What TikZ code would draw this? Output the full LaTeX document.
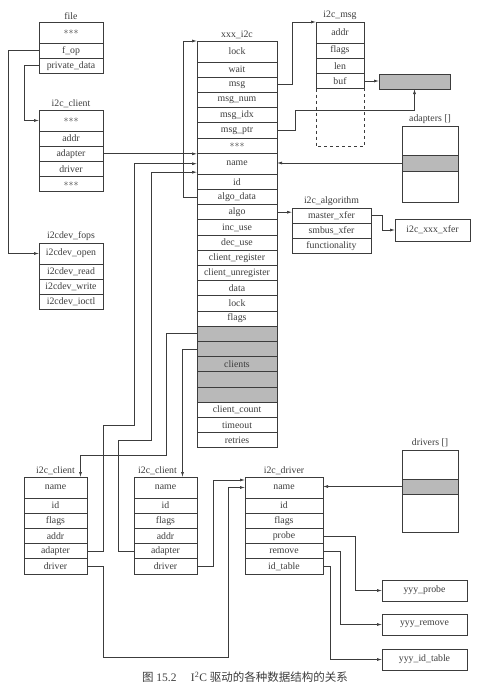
\documentclass[tikz,border=0pt]{standalone}
\usepackage{fontspec}
\setmainfont{Liberation Serif}
\newfontfamily\cjk{Noto Sans CJK SC}
\usepackage{xcolor}
\usetikzlibrary{arrows.meta, positioning, calc}
\definecolor{ink}{RGB}{60,60,60}
\definecolor{shade}{RGB}{185,185,185}
\newcommand{\fldfont}{\fontsize{9.8}{11}\selectfont}
\newcommand{\stars}{${\ast}{\ast}{\ast}$}

\begin{document}
\begin{tikzpicture}[
  x=1pt, y=-1pt,
  fld/.style={draw=ink, line width=0.7pt, minimum width=#1, minimum height=15.2pt,
              inner sep=0pt, outer sep=0pt, font=\fldfont, text=ink},
  fld/.default=64pt,
  tall/.style={fld=#1, minimum height=21pt},
  grayfld/.style={fld=#1, fill=shade},
  ttl/.style={font=\fldfont, text=ink, inner sep=2.5pt},
  blk/.style={draw=ink, line width=0.7pt, inner sep=0pt, outer sep=0pt,
              font=\fldfont, text=ink},
  arr/.style={-{Latex[length=5pt,width=3pt]}, draw=ink, line width=0.7pt}
]
\useasboundingbox (0,0) rectangle (487,697);

% file
\node[tall=64pt, anchor=north west, label={[ttl]above:file}] (fdots) at (39,22) {\stars};
\node[fld=64pt, below=0pt of fdots] (fop)   {f\_op};
\node[fld=64pt, below=0pt of fop]   (fpriv) {private\_data};

% i2c_client (top)
\node[tall=64pt, anchor=north west, label={[ttl]above:i2c\_client}] (cdots) at (39,110) {\stars};
\node[fld=64pt, below=0pt of cdots]    (caddr)    {addr};
\node[fld=64pt, below=0pt of caddr]    (cadapter) {adapter};
\node[fld=64pt, below=0pt of cadapter] (cdriver)  {driver};
\node[fld=64pt, below=0pt of cdriver]  (cdots2)   {\stars};

% i2cdev_fops
\node[tall=64pt, anchor=north west, label={[ttl]above:i2cdev\_fops}] (fopen) at (39,243) {i2cdev\_open};
\node[fld=64pt, below=0pt of fopen]  (fread)  {i2cdev\_read};
\node[fld=64pt, below=0pt of fread]  (fwrite) {i2cdev\_write};
\node[fld=64pt, below=0pt of fwrite] (fioctl) {i2cdev\_ioctl};

% xxx_i2c
\node[tall=80pt, anchor=north west, label={[ttl]above:xxx\_i2c}] (xlock) at (197,41) {lock};
\node[fld=80pt, below=0pt of xlock]     (xwait)     {wait};
\node[fld=80pt, below=0pt of xwait]     (xmsg)      {msg};
\node[fld=80pt, below=0pt of xmsg]      (xmsgnum)   {msg\_num};
\node[fld=80pt, below=0pt of xmsgnum]   (xmsgidx)   {msg\_idx};
\node[fld=80pt, below=0pt of xmsgidx]   (xmsgptr)   {msg\_ptr};
\node[fld=80pt, below=0pt of xmsgptr]   (xdots)     {\stars};
\node[tall=80pt, below=0pt of xdots]    (xname)     {name};
\node[fld=80pt, below=0pt of xname]     (xid)       {id};
\node[fld=80pt, below=0pt of xid]       (xalgodata) {algo\_data};
\node[fld=80pt, below=0pt of xalgodata] (xalgo)     {algo};
\node[fld=80pt, below=0pt of xalgo]     (xinc)      {inc\_use};
\node[fld=80pt, below=0pt of xinc]      (xdec)      {dec\_use};
\node[fld=80pt, below=0pt of xdec]      (xcreg)     {client\_register};
\node[fld=80pt, below=0pt of xcreg]     (xcunreg)   {client\_unregister};
\node[fld=80pt, below=0pt of xcunreg]   (xdata)     {data};
\node[fld=80pt, below=0pt of xdata]     (xlock2)    {lock};
\node[fld=80pt, below=0pt of xlock2]    (xflags)    {flags};
\node[grayfld=80pt, below=0pt of xflags]  (xg1)      {};
\node[grayfld=80pt, below=0pt of xg1]     (xg2)      {};
\node[grayfld=80pt, below=0pt of xg2]     (xclients) {clients};
\node[grayfld=80pt, below=0pt of xclients](xg3)      {};
\node[grayfld=80pt, below=0pt of xg3]     (xg4)      {};
\node[fld=80pt, below=0pt of xg4]       (xccount)   {client\_count};
\node[fld=80pt, below=0pt of xccount]   (xtimeout)  {timeout};
\node[fld=80pt, below=0pt of xtimeout]  (xretries)  {retries};

% i2c_msg
\node[tall=48pt, anchor=north west, label={[ttl]above:i2c\_msg}] (maddr) at (316,22) {addr};
\node[fld=48pt, below=0pt of maddr]  (mflags) {flags};
\node[fld=48pt, below=0pt of mflags] (mlen)   {len};
\node[fld=48pt, below=0pt of mlen]   (mbuf)   {buf};
\draw[ink, line width=0.7pt, dashed] (mbuf.south west) -- ([yshift=-58pt]mbuf.south west)
  -| (mbuf.south east);
\node[blk, fill=shade, minimum width=71pt, minimum height=15pt, anchor=north west] (bufblk) at (379,74) {};

% adapters []
\node[blk, minimum width=56pt, minimum height=76pt, anchor=north west,
      label={[ttl]above:adapters []}] (adapters) at (402,126) {};
\node[blk, fill=shade, minimum width=56pt, minimum height=16pt, anchor=north west] (adgray) at (402,155) {};

% i2c_algorithm
\node[fld=79pt, anchor=north west, label={[ttl]above:i2c\_algorithm}] (amaster) at (292,208) {master\_xfer};
\node[fld=79pt, below=0pt of amaster] (asmbus) {smbus\_xfer};
\node[fld=79pt, below=0pt of asmbus]  (afunc)  {functionality};
\node[blk, minimum width=75pt, minimum height=22pt, anchor=north west] (xfer) at (395,219) {i2c\_xxx\_xfer};

% i2c_client (bottom left)
\node[tall=63pt, anchor=north west, label={[ttl]above:i2c\_client}] (lname) at (24,477) {name};
\node[fld=63pt, below=0pt of lname]    (lid)      {id};
\node[fld=63pt, below=0pt of lid]      (lflags)   {flags};
\node[fld=63pt, below=0pt of lflags]   (laddr)    {addr};
\node[fld=63pt, below=0pt of laddr]    (ladapter) {adapter};
\node[fld=63pt, below=0pt of ladapter] (ldriver)  {driver};

% i2c_client (bottom middle)
\node[tall=63pt, anchor=north west, label={[ttl, xshift=-8pt]above:i2c\_client}] (mname) at (134,477) {name};
\node[fld=63pt, below=0pt of mname]    (mid)      {id};
\node[fld=63pt, below=0pt of mid]      (mflg)     {flags};
\node[fld=63pt, below=0pt of mflg]     (maddr2)   {addr};
\node[fld=63pt, below=0pt of maddr2]   (madapter) {adapter};
\node[fld=63pt, below=0pt of madapter] (mdriver)  {driver};

% i2c_driver
\node[tall=78pt, anchor=north west, label={[ttl]above:i2c\_driver}] (dname) at (245,477) {name};
\node[fld=78pt, below=0pt of dname]   (did)      {id};
\node[fld=78pt, below=0pt of did]     (dflags)   {flags};
\node[fld=78pt, below=0pt of dflags]  (dprobe)   {probe};
\node[fld=78pt, below=0pt of dprobe]  (dremove)  {remove};
\node[fld=78pt, below=0pt of dremove] (didtable) {id\_table};

% drivers []
\node[blk, minimum width=56pt, minimum height=82pt, anchor=north west,
      label={[ttl]above:drivers []}] (drivers) at (402,450) {};
\node[blk, fill=shade, minimum width=56pt, minimum height=15pt, anchor=north west] (drgray) at (402,479) {};

% yyy functions
\node[blk, minimum width=85pt, minimum height=21pt, anchor=north west] (yprobe)   at (382,580) {yyy\_probe};
\node[blk, minimum width=85pt, minimum height=21pt, anchor=north west] (yremove)  at (382,614) {yyy\_remove};
\node[blk, minimum width=85pt, minimum height=21pt, anchor=north west] (yidtable) at (382,649) {yyy\_id\_table};

% connectors
\draw[arr] (fop.west) -- ([xshift=-31pt]fop.west) |- (fopen.west);
\draw[arr] (fpriv.west) -- ([xshift=-15pt]fpriv.west) |- (cdots.west);
\draw[arr] (cadapter.east) -- (cadapter.east -| xname.west);
\draw[arr] (ladapter.east) -| (103,425) -| ([xshift=-63pt]xname.west) -- (xname.west);
\draw[arr] (madapter.west) -| (118,440) -| ([xshift=-46pt,yshift=-8.5pt]xname.west)
  -- ([yshift=-8.5pt]xname.west);
\draw[arr] (xalgodata.west) -- ([xshift=-14pt]xalgodata.west) |- (xlock.north west);
\draw[arr] (xg1.west) -| (166,455) -| ([xshift=25pt]lname.north);
\draw[arr] (xg2.west) -| ([xshift=17pt]mname.north);
\draw[arr] (xmsg.east) -- ([xshift=15pt]xmsg.east) |- (maddr.north west);
\draw[arr] (mbuf.east) -- (mbuf.east -| bufblk.west);
\draw[arr] (xmsgptr.east) -| (295,110) -| (bufblk.south);
\draw[arr] (adgray.west) -- (adgray.west -| xname.east);
\draw[arr] (xalgo.east) -- (xalgo.east -| amaster.west);
\draw[arr] (amaster.east) -| ([xshift=-13pt]xfer.west) -- (xfer.west);
\draw[arr] (ldriver.east) -| (103,657) -| ([xshift=-17pt]dname.west) -- (dname.west);
\draw[arr] (mdriver.east) -| ([xshift=-32pt,yshift=7.5pt]dname.west)
  -- ([yshift=7.5pt]dname.west);
\draw[arr] (drgray.west) -- (drgray.west -| dname.east);
\draw[arr] (dprobe.east) -| ([xshift=-27pt]yprobe.west) -- (yprobe.west);
\draw[arr] (dremove.east) -| ([xshift=-42pt]yremove.west) -- (yremove.west);
\draw[arr] (didtable.east) -| ([xshift=-52pt]yidtable.west) -- (yidtable.west);

% caption
\node[font=\fontsize{11.5}{13}\selectfont, text=ink] (cap) at (245,677)
  {{\cjk 图} 15.2\quad\ I\textsuperscript{2}C {\cjk 驱动的各种数据结构的关系}};
\end{tikzpicture}
\end{document}
